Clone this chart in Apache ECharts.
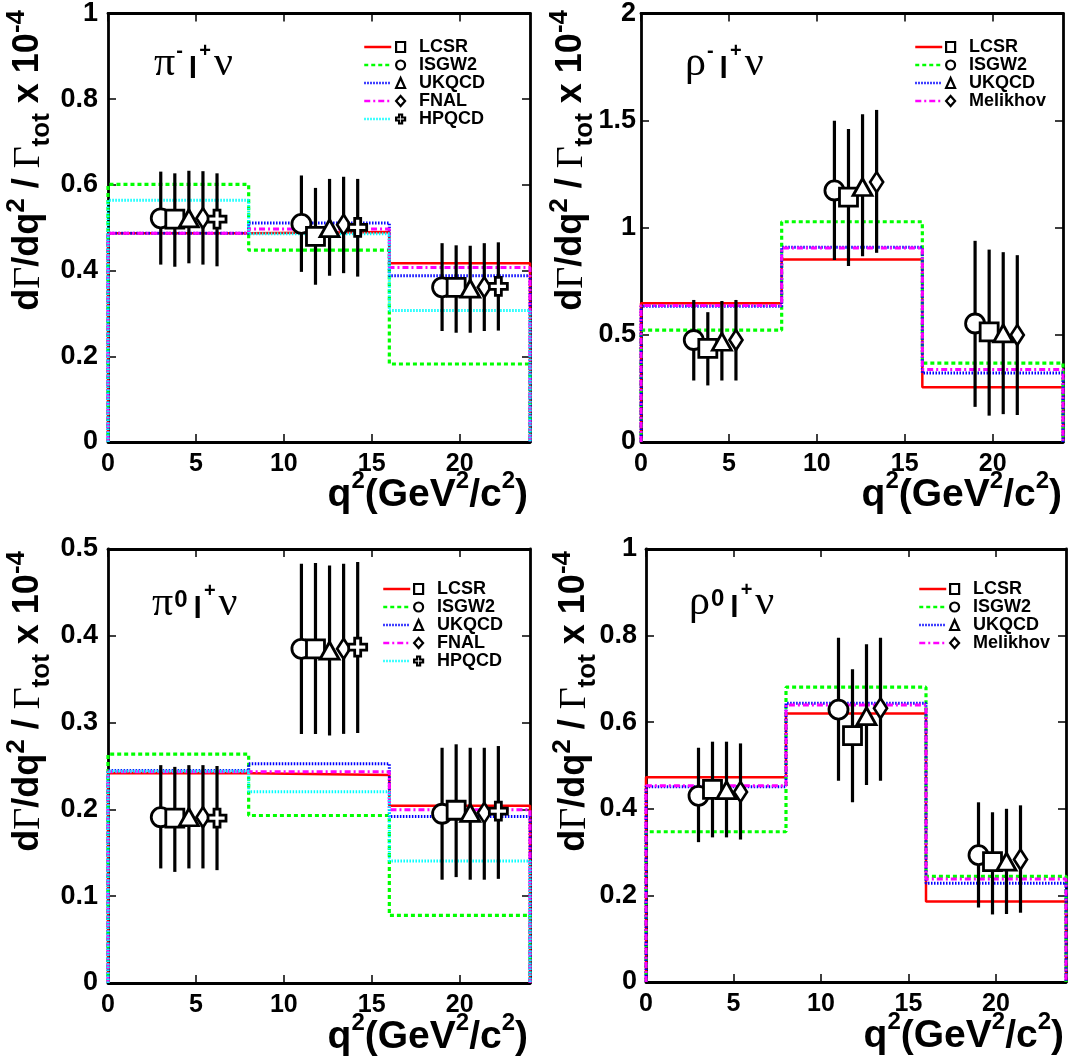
<!DOCTYPE html>
<html lang="en">
<head>
<meta charset="UTF-8">
<title>Partial rates dGamma/dq2</title>
<script src="https://cdn.jsdelivr.net/npm/echarts@6/dist/echarts.min.js"></script>
<style>
    html, body { margin: 0; padding: 0; background: #fff; }
    #chart { width: 1068px; height: 1064px; }
</style>
</head>
<body>
<div id="chart"></div>
<script>
// q^2 bin edges and x tick labels
var binEdges = [0, 8, 16, 24];
var xTickValues = [0, 5, 10, 15, 20];

var piModels = ['LCSR', 'ISGW2', 'UKQCD', 'FNAL', 'HPQCD'];
var rhoModels = ['LCSR', 'ISGW2', 'UKQCD', 'Melikhov'];

// x position of each model's data point, per bin (model order as above)
var markerX = [
    [3.8, 11.8, 19.8],
    [3.0, 11.0, 19.0],
    [4.6, 12.6, 20.6],
    [5.4, 13.4, 21.4],
    [6.2, 14.2, 22.2]
];

// pi- l+ nu
var piMinusSteps = [
    [0.487, 0.490, 0.417],
    [0.601, 0.448, 0.182],
    [0.487, 0.511, 0.388],
    [0.487, 0.497, 0.407],
    [0.564, 0.486, 0.307]
];
var piMinusY = [
    [0.520, 0.480, 0.361],
    [0.522, 0.509, 0.361],
    [0.522, 0.499, 0.358],
    [0.522, 0.507, 0.361],
    [0.520, 0.501, 0.363]
];
var piMinusLo = [
    [0.409, 0.367, 0.255],
    [0.414, 0.397, 0.259],
    [0.417, 0.388, 0.255],
    [0.414, 0.394, 0.259],
    [0.410, 0.386, 0.260]
];
var piMinusHi = [
    [0.627, 0.593, 0.459],
    [0.631, 0.622, 0.464],
    [0.633, 0.614, 0.458],
    [0.632, 0.619, 0.464],
    [0.627, 0.614, 0.466]
];

// rho- l+ nu
var rhoMinusSteps = [
    [0.648, 0.852, 0.256],
    [0.522, 1.028, 0.368],
    [0.634, 0.909, 0.322],
    [0.637, 0.906, 0.338]
];
var rhoMinusY = [
    [0.437, 1.143, 0.514],
    [0.476, 1.174, 0.553],
    [0.468, 1.190, 0.507],
    [0.476, 1.213, 0.499]
];
var rhoMinusLo = [
    [0.264, 0.821, 0.123],
    [0.287, 0.849, 0.164],
    [0.287, 0.867, 0.130],
    [0.287, 0.883, 0.126]
];
var rhoMinusHi = [
    [0.606, 1.461, 0.898],
    [0.663, 1.500, 0.939],
    [0.658, 1.530, 0.886],
    [0.663, 1.550, 0.872]
];

// pi0 l+ nu
var piZeroSteps = [
    [0.2416, 0.2396, 0.2042],
    [0.2636, 0.1930, 0.0778],
    [0.2447, 0.2526, 0.1917],
    [0.2435, 0.2435, 0.1995],
    [0.2440, 0.2203, 0.1406]
];
var piZeroY = [
    [0.190, 0.385, 0.199],
    [0.191, 0.385, 0.195],
    [0.191, 0.383, 0.196],
    [0.191, 0.385, 0.196],
    [0.190, 0.387, 0.198]
];
var piZeroLo = [
    [0.128, 0.287, 0.122],
    [0.132, 0.287, 0.119],
    [0.132, 0.285, 0.119],
    [0.132, 0.287, 0.119],
    [0.130, 0.288, 0.120]
];
var piZeroHi = [
    [0.249, 0.484, 0.275],
    [0.251, 0.483, 0.271],
    [0.251, 0.481, 0.271],
    [0.251, 0.483, 0.271],
    [0.250, 0.485, 0.273]
];

// rho0 l+ nu
var rhoZeroSteps = [
    [0.473, 0.620, 0.186],
    [0.347, 0.681, 0.244],
    [0.451, 0.644, 0.228],
    [0.453, 0.640, 0.238]
];
var rhoZeroY = [
    [0.445, 0.569, 0.278],
    [0.430, 0.629, 0.293],
    [0.443, 0.614, 0.278],
    [0.439, 0.632, 0.283]
];
var rhoZeroLo = [
    [0.334, 0.415, 0.156],
    [0.323, 0.465, 0.172],
    [0.334, 0.455, 0.157],
    [0.329, 0.465, 0.160]
];
var rhoZeroHi = [
    [0.555, 0.722, 0.392],
    [0.541, 0.795, 0.415],
    [0.555, 0.780, 0.400],
    [0.551, 0.795, 0.408]
];

var yMaxes = [1, 2, 0.5, 1];
var yTickSteps = [0.2, 0.5, 0.1, 0.2];

// ---- styles ----
var plusPath = 'path://M6,0H12V6H18V12H12V18H6V12H0V6H6Z';
var modelStyle = {
    LCSR:     { color: '#ff0000', type: 'solid',       width: 2.5, symbol: 'rect',     size: 18 },
    ISGW2:    { color: '#00ff00', type: [4, 3],        width: 3.2, symbol: 'circle',   size: 19 },
    UKQCD:    { color: '#0000ff', type: [1.5, 1.5],    width: 3,   symbol: 'triangle', size: [19, 17] },
    FNAL:     { color: '#ff00ff', type: [6, 3, 2, 3],  width: 3,   symbol: 'diamond',  size: [13, 20] },
    Melikhov: { color: '#ff00ff', type: [6, 3, 2, 3],  width: 3,   symbol: 'diamond',  size: [13, 20] },
    HPQCD:    { color: '#00ffff', type: [1.5, 1.5],    width: 3,   symbol: plusPath,   size: 18 }
};
// draw order of the markers (left to right)
var markerOrder = [1, 0, 2, 3, 4];

var panels = [
    { models: piModels,  steps: piMinusSteps,  y: piMinusY,  lo: piMinusLo,  hi: piMinusHi,
      grid: { left: 108, top: 8, width: 422, height: 434 }, labMargin: 10,
      legA: [363, 38], legB: [395, 38], label: ['π', '-', 'l', '+', 'ν'], labPos: [154, 85], zeroSup: false,
      xTitle: [528, 515], yTitle: [-4, 10] },
    { models: rhoModels, steps: rhoMinusSteps, y: rhoMinusY, lo: rhoMinusLo, hi: rhoMinusHi,
      grid: { left: 641, top: 8, width: 422, height: 434 }, labMargin: 5,
      legA: [914, 38], legB: [945, 38], label: ['ρ', '-', 'l', '+', 'ν'], labPos: [685, 85], zeroSup: false,
      xTitle: [1062, 515], yTitle: [539, 10] },
    { models: piModels,  steps: piZeroSteps,   y: piZeroY,   lo: piZeroLo,   hi: piZeroHi,
      grid: { left: 108, top: 549, width: 422, height: 434 }, labMargin: 10,
      legA: [382, 580], legB: [413, 580], label: ['π', '0', 'l', '+', 'ν'], labPos: [152, 625], zeroSup: true,
      xTitle: [528, 1057], yTitle: [-4, 551] },
    { models: rhoModels, steps: rhoZeroSteps,  y: rhoZeroY,  lo: rhoZeroLo,  hi: rhoZeroHi,
      grid: { left: 646, top: 549, width: 420, height: 433 }, labMargin: 9,
      legA: [918, 580], legB: [949, 580], label: ['ρ', '0', 'l', '+', 'ν'], labPos: [689, 624], zeroSup: true,
      xTitle: [1064, 1056], yTitle: [542, 551] }
];

var sans = 'Liberation Sans, Arial, Helvetica, sans-serif';
var serif = 'Liberation Serif, Times New Roman, serif';

function stepPoints(vals) {
    var pts = [[binEdges[0], 0]];
    for (var b = 0; b < vals.length; b++) {
        pts.push([binEdges[b], vals[b]]);
        pts.push([binEdges[b + 1], vals[b]]);
    }
    pts.push([binEdges[binEdges.length - 1], 0]);
    return pts;
}

function renderErrorBar(params, api) {
    var top = api.coord([api.value(0), api.value(2)]);
    var bot = api.coord([api.value(0), api.value(1)]);
    return {
        type: 'line',
        shape: { x1: top[0], y1: top[1], x2: bot[0], y2: bot[1] },
        style: { stroke: '#000', lineWidth: 3.2 }
    };
}

function xAxisFor(i, pos) {
    return {
        type: 'value', gridIndex: i, position: pos,
        min: binEdges[0], max: binEdges[binEdges.length - 1], interval: xTickValues[1] - xTickValues[0],
        axisLine: { show: true, onZero: false, lineStyle: { color: '#000', width: 2.8 } },
        axisTick: { show: true, inside: true, length: 8, customValues: xTickValues,
                    lineStyle: { color: '#000', width: 1.5 } },
        axisLabel: { show: pos === 'bottom', customValues: xTickValues, interval: 0, hideOverlap: false,
                     margin: 10, color: '#000', fontSize: 25, fontWeight: 'bold', fontFamily: sans },
        splitLine: { show: false }
    };
}

function yAxisFor(i, pos, margin) {
    return {
        type: 'value', gridIndex: i, position: pos,
        min: 0, max: yMaxes[i], interval: yTickSteps[i],
        axisLine: { show: true, onZero: false, lineStyle: { color: '#000', width: 2.8 } },
        axisTick: { show: true, inside: true, length: 8, lineStyle: { color: '#000', width: 1.5 } },
        axisLabel: { show: pos === 'left', margin: margin, color: '#000',
                     fontSize: 27, fontWeight: 'bold', fontFamily: sans },
        splitLine: { show: false }
    };
}

var grids = [], xAxes = [], yAxes = [], series = [], legends = [], graphics = [];

panels.forEach(function (p, i) {
    grids.push(p.grid);
    xAxes[i] = xAxisFor(i, 'bottom');
    xAxes[i + 4] = xAxisFor(i, 'top');
    yAxes[i] = yAxisFor(i, 'left', p.labMargin);
    yAxes[i + 4] = yAxisFor(i, 'right', 0);

    // model predictions as histograms
    p.models.forEach(function (m, k) {
        var st = modelStyle[m];
        series.push({
            name: m + ' line', type: 'line', xAxisIndex: i, yAxisIndex: i,
            data: stepPoints(p.steps[k]), symbol: 'none', silent: true, z: 2,
            itemStyle: { color: st.color },
            lineStyle: { color: st.color, type: st.type, width: st.width }
        });
    });

    // error bars
    var bars = [];
    p.models.forEach(function (m, k) {
        for (var b = 0; b < p.y[k].length; b++) {
            bars.push([markerX[k][b], p.lo[k][b], p.hi[k][b]]);
        }
    });
    series.push({
        type: 'custom', xAxisIndex: i, yAxisIndex: i, silent: true, z: 3,
        renderItem: renderErrorBar, encode: { x: 0, y: [1, 2] }, data: bars
    });

    // data points
    markerOrder.forEach(function (k) {
        if (k >= p.models.length) return;
        var m = p.models[k];
        var st = modelStyle[m];
        var pts = p.y[k].map(function (v, b) { return [markerX[k][b], v]; });
        series.push({
            name: m, type: 'scatter', xAxisIndex: i, yAxisIndex: i, silent: true, z: 4,
            symbol: st.symbol, symbolSize: st.size, data: pts,
            itemStyle: { color: '#fff', borderColor: '#000', borderWidth: 2.8, opacity: 1 }
        });
    });

    // legends: line samples, then markers with names
    var legText = { fontSize: 18, fontWeight: 'bold', fontFamily: sans, color: '#000', lineHeight: 17.5 };
    legends.push({
        orient: 'vertical', left: p.legA[0], top: p.legA[1], padding: 0, itemGap: 0,
        itemWidth: 27, itemHeight: 10, selectedMode: false,
        data: p.models.map(function (m) { return m + ' line'; }),
        formatter: function () { return ' '; },
        itemStyle: { opacity: 0 },
        lineStyle: { width: 2.5 },
        textStyle: legText
    });
    legends.push({
        orient: 'vertical', left: p.legB[0], top: p.legB[1], padding: 0, itemGap: 0,
        itemWidth: 9, itemHeight: 10, selectedMode: false,
        data: p.models.slice(),
        itemStyle: { color: '#fff', borderColor: '#000', borderWidth: 2.2 },
        textStyle: Object.assign({ padding: [0, 0, 0, 9] }, legText)
    });

    // decay channel label
    var lab = p.label;
    graphics.push({
        type: 'text', x: p.labPos[0], y: p.labPos[1], silent: true,
        style: {
            text: '{g|' + lab[0] + '}{' + (p.zeroSup ? 'z' : 's') + '|' + lab[1] + '}{l|' + lab[2] + '}{s|' + lab[3] + '}{v|' + lab[4] + '}',
            align: 'left', verticalAlign: 'bottom',
            rich: {
                g: { fontFamily: serif, fontSize: 42, lineHeight: 46, verticalAlign: 'bottom', fill: '#000' },
                v: { fontFamily: serif, fontSize: 42, lineHeight: 46, padding: [0, 0, 0, 3], verticalAlign: 'bottom', fill: '#000' },
                l: { fontFamily: sans, fontWeight: 'bold', fontSize: 30, lineHeight: 40, padding: [0, 1, 0, 6], verticalAlign: 'bottom', fill: '#000' },
                s: { fontFamily: sans, fontWeight: 'bold', fontSize: 20, lineHeight: 20, padding: [0, 0, 24, 1], verticalAlign: 'bottom', fill: '#000' },
                z: { fontFamily: sans, fontWeight: 'bold', fontSize: 24, lineHeight: 24, padding: [0, 0, 13, 1], verticalAlign: 'bottom', fill: '#000' }
            }
        }
    });

    // x title
    graphics.push({
        type: 'text', x: p.xTitle[0], y: p.xTitle[1], silent: true,
        style: {
            text: '{m|q}{s|2}{m|(GeV}{s|2}{m|/c}{s|2}{m|)}',
            align: 'right', verticalAlign: 'bottom',
            rich: {
                m: { fontFamily: sans, fontWeight: 'bold', fontSize: 39, lineHeight: 42, verticalAlign: 'bottom', fill: '#000' },
                s: { fontFamily: sans, fontWeight: 'bold', fontSize: 24, lineHeight: 24, padding: [0, 0, 22, 0], verticalAlign: 'bottom', fill: '#000' }
            }
        }
    });

    // y title (rotated)
    graphics.push({
        type: 'text', x: p.yTitle[0], y: p.yTitle[1], rotation: Math.PI / 2, silent: true,
        style: {
            text: '{m|d}{g|Γ}{m|/dq}{s|2}{m| / }{g|Γ}{b|tot}{m| x 10}{s|-4}',
            align: 'right', verticalAlign: 'top',
            rich: {
                m: { fontFamily: sans, fontWeight: 'bold', fontSize: 36, lineHeight: 38, padding: [14, 0, 0, 0], verticalAlign: 'top', fill: '#000' },
                g: { fontFamily: serif, fontWeight: 'normal', fontSize: 38, lineHeight: 38, padding: [14, 0, 0, 0], verticalAlign: 'top', fill: '#000' },
                s: { fontFamily: sans, fontWeight: 'bold', fontSize: 26, lineHeight: 26, padding: [8, 0, 0, 0], verticalAlign: 'top', fill: '#000' },
                b: { fontFamily: sans, fontWeight: 'bold', fontSize: 26, lineHeight: 26, padding: [33, 0, 0, 0], verticalAlign: 'top', fill: '#000' }
            }
        }
    });
});

var chart = echarts.init(document.getElementById('chart'), null, { renderer: 'canvas' });
chart.setOption({
    backgroundColor: '#fff',
    animation: false,
    grid: grids,
    xAxis: xAxes,
    yAxis: yAxes,
    legend: legends,
    series: series,
    graphic: graphics
});
</script>
</body>
</html>
